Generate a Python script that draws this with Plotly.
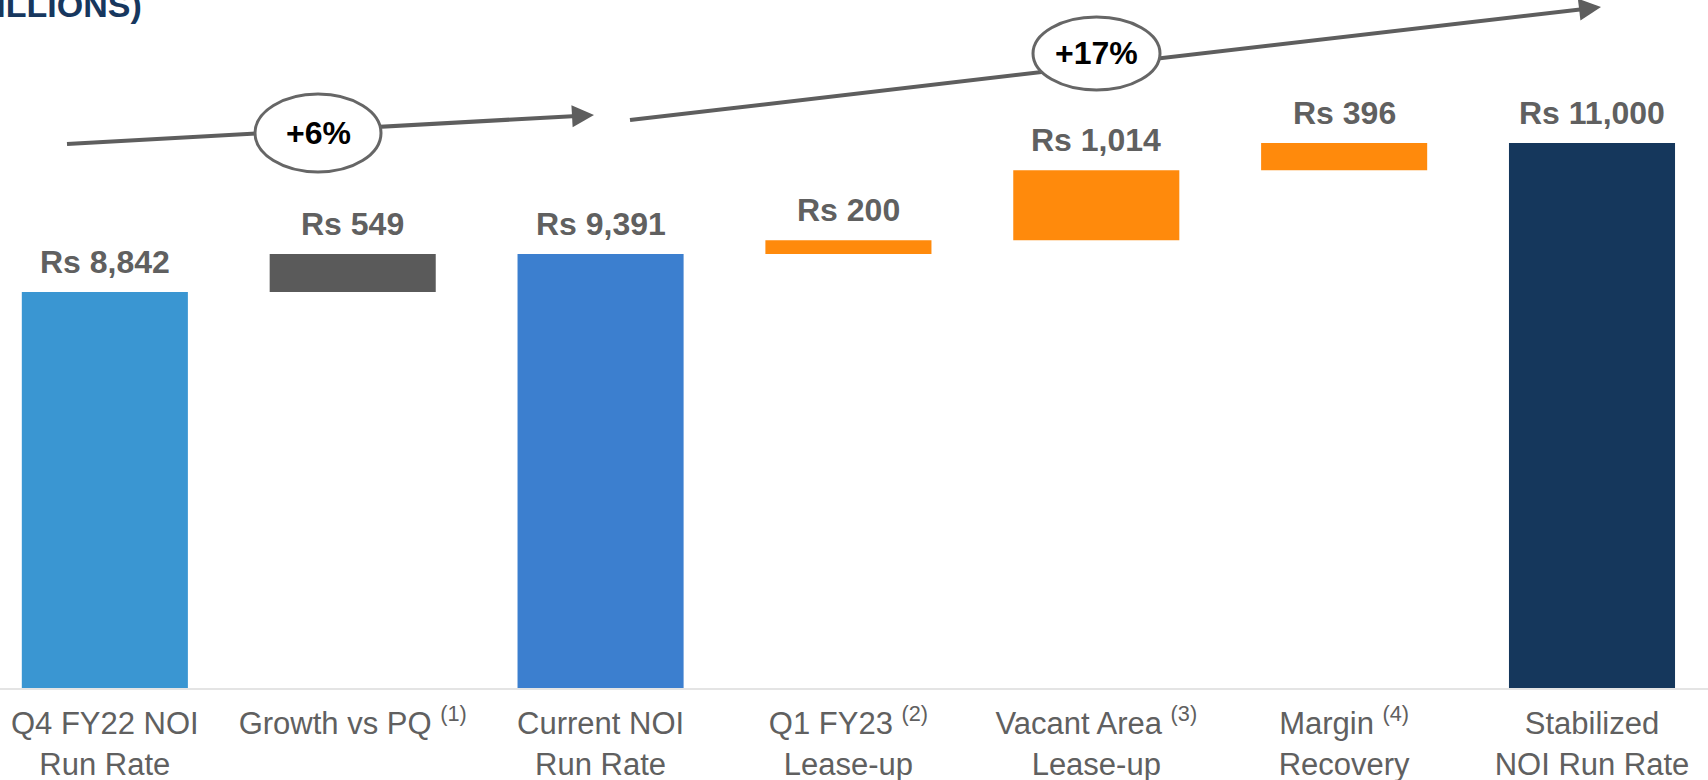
import plotly.graph_objects as go

FONT = "Liberation Sans, Arial, sans-serif"
LABEL_GRAY = "#606060"
ARROW_GRAY = "#5e5e5e"

W, H = 1708, 780
BOTTOM = 92  # px reserved below the bars for category labels

categories = [
    "Q4 FY22 NOI<br>Run Rate",
    "Growth vs PQ <sup>(1)</sup>",
    "Current NOI<br>Run Rate",
    "Q1 FY23 <sup>(2)</sup><br>Lease-up",
    "Vacant Area <sup>(3)</sup><br>Lease-up",
    "Margin <sup>(4)</sup><br>Recovery",
    "Stabilized<br>NOI Run Rate",
]
values = [8842, 549, 9391, 200, 1014, 396, 11000]
is_total = [True, False, True, False, False, False, True]
colors = ["#3a96d2", "#5a5a5a", "#3c7fcf", "#ff8a0c", "#ff8a0c", "#ff8a0c", "#15375c"]

growth_labels = ["+6%", "+17%"]

# waterfall bases: totals stand on zero, steps float on the running total
bases, tops = [], []
running = 0
for v, tot in zip(values, is_total):
    if tot:
        bases.append(0)
        running = v
    else:
        bases.append(running)
        running += v
    tops.append(bases[-1] + v)

fig = go.Figure(go.Bar(
    x=categories,
    y=values,
    base=bases,
    marker=dict(color=colors, line=dict(width=0)),
    width=0.67,
    hoverinfo="skip",
))

for cat, v, top in zip(categories, values, tops):
    fig.add_annotation(
        x=cat, y=top, text=f"<b>Rs {v:,}</b>", showarrow=False,
        xanchor="center", yanchor="middle", yshift=30,
        font=dict(family=FONT, size=32, color=LABEL_GRAY),
    )


def px(x):
    return x / W


def py(y):
    return (H - BOTTOM - y) / (H - BOTTOM)


# growth arrows: (start, tip) in pixels
arrows = [((67, 144), (594, 115)), ((630, 120), (1601, 7))]
for (x0, y0), (x1, y1) in arrows:
    fig.add_shape(type="line", xref="paper", yref="paper",
                  x0=px(x0), y0=py(y0), x1=px(x1 - 8), y1=py(y1 + (y0 - y1) * 8 / (x1 - x0)),
                  line=dict(color=ARROW_GRAY, width=4))
    dx, dy = x1 - x0, y1 - y0
    n = (dx ** 2 + dy ** 2) ** 0.5
    fig.add_annotation(x=px(x1), y=py(y1), xref="paper", yref="paper", text="",
                       showarrow=True, arrowhead=2, arrowsize=1.1, arrowwidth=4,
                       arrowcolor=ARROW_GRAY, ax=-20 * dx / n, ay=-20 * dy / n)

# ellipses with the growth percentages
ellipses = [(255, 94, 381, 172), (1033, 17, 1160, 90)]
for (ex0, ey0, ex1, ey1), lab in zip(ellipses, growth_labels):
    fig.add_shape(type="circle", xref="paper", yref="paper",
                  x0=px(ex0), y0=py(ey1), x1=px(ex1), y1=py(ey0),
                  fillcolor="white", line=dict(color="#666666", width=3))
    fig.add_annotation(x=px((ex0 + ex1) / 2), y=py((ey0 + ey1) / 2),
                       xref="paper", yref="paper", text=f"<b>{lab}</b>",
                       showarrow=False, xanchor="center", yanchor="middle",
                       font=dict(family=FONT, size=32, color="black"))

# page title, mostly cropped off the top of the slide
fig.add_annotation(x=px(144), y=py(26), xref="paper", yref="paper",
                   text="<b>(RS MILLIONS)</b>", showarrow=False,
                   xanchor="right", yanchor="bottom",
                   font=dict(family=FONT, size=34, color="#17375e"))

fig.update_layout(
    width=W, height=H,
    paper_bgcolor="white", plot_bgcolor="white",
    showlegend=False,
    margin=dict(l=0, r=0, t=0, b=BOTTOM),
    xaxis=dict(range=[-0.423, 6.468], showgrid=False, showline=True,
               linecolor="#e4e4e4", linewidth=2, ticks="",
               tickfont=dict(family=FONT, size=31, color=LABEL_GRAY),
               ticklabelstandoff=7, automargin=False),
    yaxis=dict(range=[3107, 13071], visible=False, automargin=False),
)

fig.write_html("out.html", config={"displayModeBar": False},
               post_script="document.body.style.margin='0';")
